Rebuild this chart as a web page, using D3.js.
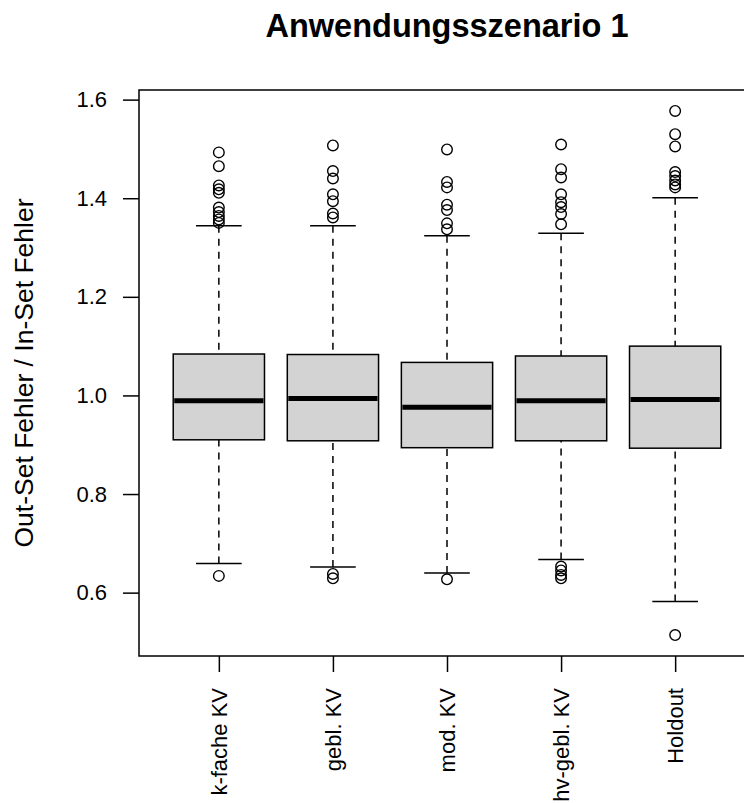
<!DOCTYPE html>
<html>
<head>
<meta charset="utf-8">
<script src="https://cdn.jsdelivr.net/npm/d3@7"></script>
<style>
  body { margin: 0; background: #fff; }
  text { font-family: "Liberation Sans", Arial, sans-serif; fill: #000; }
</style>
</head>
<body>
<script>
// categories and box statistics
const categories = ["k-fache KV", "gebl. KV", "mod. KV", "hv-gebl. KV", "Holdout"];
const lowerWhisker = [0.659, 0.652, 0.640, 0.667, 0.582];
const lowerQuartile = [0.910, 0.908, 0.894, 0.908, 0.893];
const medians = [0.989, 0.994, 0.976, 0.989, 0.992];
const upperQuartile = [1.084, 1.083, 1.067, 1.080, 1.100];
const upperWhisker = [1.344, 1.344, 1.324, 1.329, 1.401];
const outliers = [
  [0.634, 1.493, 1.465, 1.426, 1.418, 1.411, 1.381, 1.372, 1.364, 1.357, 1.350],
  [0.638, 0.629, 1.507, 1.455, 1.440, 1.408, 1.394, 1.369, 1.361],
  [0.627, 1.499, 1.433, 1.422, 1.387, 1.376, 1.349, 1.337],
  [0.653, 0.645, 0.636, 0.629, 1.509, 1.459, 1.442, 1.408, 1.392, 1.382, 1.368, 1.347],
  [0.514, 1.577, 1.530, 1.505, 1.453, 1.445, 1.436, 1.428, 1.422]
];
const yTicks = [0.6, 0.8, 1.0, 1.2, 1.4, 1.6];
const title = "Anwendungsszenario 1";
const yLabel = "Out-Set Fehler / In-Set Fehler";

const width = 744, height = 803;
const plot = { left: 139, top: 90, right: 755, bottom: 656 };

const svg = d3.select("body").append("svg")
  .attr("width", width)
  .attr("height", height);

// x: one unit per group, R style padding
let n = categories.length;
let xScale = d3.scaleLinear()
  .domain([0.5 - 0.04 * n, n + 0.5 + 0.04 * n])
  .range([plot.left, plot.right]);

// y: data range extended 4% like R
let allVals = outliers.flat().concat(lowerWhisker, upperWhisker);
let yMin = d3.min(allVals), yMax = d3.max(allVals);
let pad = (yMax - yMin) * 0.04;
let yScale = d3.scaleLinear()
  .domain([yMin - pad, yMax + pad])
  .range([plot.bottom, plot.top]);

let boxW = xScale(0.8) - xScale(0);
let stapleW = boxW / 2;

let groups = svg.selectAll(".grp")
  .data(categories)
  .enter()
  .append("g")
  .attr("class", "grp");

// whiskers (dashed), drawn from the staple towards the box
groups.append("line")
  .attr("x1", (d, i) => xScale(i + 1))
  .attr("x2", (d, i) => xScale(i + 1))
  .attr("y1", (d, i) => yScale(lowerWhisker[i]))
  .attr("y2", (d, i) => yScale(lowerQuartile[i]))
  .attr("stroke", "#000").attr("stroke-width", 1.5)
  .attr("stroke-dasharray", "7,6");
groups.append("line")
  .attr("x1", (d, i) => xScale(i + 1))
  .attr("x2", (d, i) => xScale(i + 1))
  .attr("y1", (d, i) => yScale(upperWhisker[i]))
  .attr("y2", (d, i) => yScale(upperQuartile[i]))
  .attr("stroke", "#000").attr("stroke-width", 1.5)
  .attr("stroke-dasharray", "7,6");

// staples
[lowerWhisker, upperWhisker].forEach((arr) => {
  groups.append("line")
    .attr("x1", (d, i) => xScale(i + 1) - stapleW / 2)
    .attr("x2", (d, i) => xScale(i + 1) + stapleW / 2)
    .attr("y1", (d, i) => yScale(arr[i]))
    .attr("y2", (d, i) => yScale(arr[i]))
    .attr("stroke", "#000").attr("stroke-width", 1.5);
});

// boxes
groups.append("rect")
  .attr("x", (d, i) => xScale(i + 1) - boxW / 2)
  .attr("y", (d, i) => yScale(upperQuartile[i]))
  .attr("width", boxW)
  .attr("height", (d, i) => yScale(lowerQuartile[i]) - yScale(upperQuartile[i]))
  .attr("fill", "#d3d3d3")
  .attr("stroke", "#000").attr("stroke-width", 1.5);

// medians
groups.append("line")
  .attr("x1", (d, i) => xScale(i + 1) - boxW / 2 + 1)
  .attr("x2", (d, i) => xScale(i + 1) + boxW / 2 - 1)
  .attr("y1", (d, i) => yScale(medians[i]))
  .attr("y2", (d, i) => yScale(medians[i]))
  .attr("stroke", "#000").attr("stroke-width", 5);

// outliers
groups.each(function(d, i) {
  d3.select(this).selectAll("circle")
    .data(outliers[i])
    .enter()
    .append("circle")
    .attr("cx", xScale(i + 1))
    .attr("cy", (v) => yScale(v))
    .attr("r", 5.3)
    .attr("fill", "none")
    .attr("stroke", "#000")
    .attr("stroke-width", 1.4);
});

// frame
svg.append("rect")
  .attr("x", plot.left).attr("y", plot.top)
  .attr("width", plot.right - plot.left)
  .attr("height", plot.bottom - plot.top)
  .attr("fill", "none")
  .attr("stroke", "#000").attr("stroke-width", 1.5);

// y axis
let yAxis = d3.axisLeft(yScale)
  .tickValues(yTicks)
  .tickFormat(d3.format(".1f"))
  .tickSize(16)
  .tickPadding(16);
let yg = svg.append("g")
  .attr("transform", "translate(" + plot.left + ",0)")
  .call(yAxis);
yg.select(".domain").remove();
yg.selectAll("line").attr("stroke", "#000").attr("stroke-width", 1.5);
yg.selectAll("text")
  .style("font-family", "Liberation Sans, Arial, sans-serif")
  .style("font-size", "22px")
  .attr("fill", "#000");

// x axis
let xAxis = d3.axisBottom(xScale)
  .tickValues(d3.range(1, n + 1))
  .tickFormat((d) => categories[d - 1])
  .tickSize(16);
let xg = svg.append("g")
  .attr("transform", "translate(0," + plot.bottom + ")")
  .call(xAxis);
xg.select(".domain").remove();
xg.selectAll("line").attr("stroke", "#000").attr("stroke-width", 1.5);
xg.selectAll("text")
  .style("font-family", "Liberation Sans, Arial, sans-serif")
  .style("font-size", "22px")
  .attr("fill", "#000")
  .attr("text-anchor", "end")
  .attr("dy", "0.35em")
  .attr("transform", "translate(0,32) rotate(-90)")
  .attr("x", 0)
  .attr("y", 0);

// title
svg.append("text")
  .attr("x", (plot.left + plot.right) / 2)
  .attr("y", 37)
  .attr("text-anchor", "middle")
  .style("font-size", "32.5px")
  .style("font-weight", "bold")
  .text(title);

// y label
svg.append("text")
  .attr("transform", "translate(33," + ((plot.top + plot.bottom) / 2) + ") rotate(-90)")
  .attr("text-anchor", "middle")
  .style("font-size", "26.5px")
  .text(yLabel);
</script>
</body>
</html>
